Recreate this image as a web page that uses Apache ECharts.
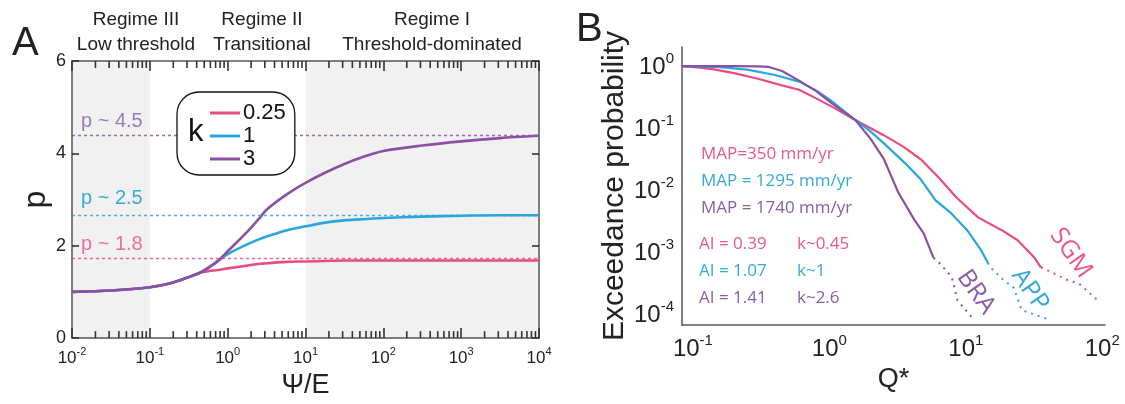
<!DOCTYPE html>
<html>
<head>
<meta charset="utf-8">
<script src="https://cdn.jsdelivr.net/npm/echarts@6/dist/echarts.min.js"></script>
<style>
html, body { margin: 0; padding: 0; background: #fff; }
#chart { width: 1125px; height: 404px; }
</style>
</head>
<body>
<div id="chart"></div>
<script>
// Panel A: p versus Psi/E for three values of k
const psiE = [0.01, 0.0316, 0.1, 0.178, 0.316, 0.447, 0.562, 0.708, 0.794, 1, 1.78, 2.63, 3.16, 5.62, 10, 17.8, 31.6, 50.1, 100, 316, 1000, 3162, 10000];
const pK025 = [1.0, 1.03, 1.1, 1.18, 1.32, 1.42, 1.45, 1.47, 1.48, 1.51, 1.57, 1.61, 1.62, 1.65, 1.66, 1.67, 1.68, 1.68, 1.68, 1.68, 1.68, 1.68, 1.68];
const pK1 = [1.0, 1.03, 1.1, 1.18, 1.32, 1.42, 1.52, 1.64, 1.70, 1.82, 2.03, 2.15, 2.2, 2.33, 2.42, 2.5, 2.55, 2.57, 2.6, 2.63, 2.65, 2.66, 2.66];
const pK3 = [1.0, 1.03, 1.1, 1.18, 1.32, 1.42, 1.52, 1.64, 1.71, 1.88, 2.3, 2.62, 2.78, 3.1, 3.36, 3.58, 3.77, 3.9, 4.05, 4.17, 4.26, 4.33, 4.38];
const kNames = ['0.25', '1', '3'];
const pLimits = [1.73, 2.65, 4.39];
const pLimitLabels = ['p ~ 1.8', 'p ~ 2.5', 'p ~ 4.5'];
const shadedRanges = [[0.01, 0.1], [10, 10000]];
const regimeTitles = [['Regime III', 'Low threshold'], ['Regime II', 'Transitional'], ['Regime I', 'Threshold-dominated']];

// Panel B: exceedance probability of Q* for three sites
const sgmSolid = [[0.083, 0.95], [0.1, 0.93], [0.14, 0.86], [0.2, 0.74], [0.3, 0.6], [0.45, 0.47], [0.6, 0.4], [0.8, 0.29], [1.1, 0.2], [1.55, 0.13], [2.5, 0.074], [3.5, 0.048], [4.7, 0.03], [6.3, 0.0155], [8.5, 0.0074], [12.3, 0.0035], [18.2, 0.0022], [24, 0.0015], [31.6, 0.0008], [35.5, 0.00055]];
const sgmTail = [[35.5, 0.00055], [39.8, 0.00049], [56, 0.00034], [67.6, 0.0003], [93, 0.00016]];
const appSolid = [[0.083, 0.96], [0.15, 0.93], [0.25, 0.84], [0.4, 0.69], [0.6, 0.54], [0.8, 0.39], [1.0, 0.28], [1.25, 0.19], [1.55, 0.13], [2.0, 0.085], [2.5, 0.055], [3.6, 0.026], [4.7, 0.0141], [6.0, 0.0066], [7.8, 0.0041], [10.2, 0.0022], [12.9, 0.00105], [14.5, 0.00065]];
const appTail = [[14.5, 0.00065], [15.1, 0.00055], [19, 0.00034], [22.4, 0.00026], [25.7, 0.000112], [41.7, 0.000078]];
const braSolid = [[0.083, 0.96], [0.2, 0.96], [0.3, 0.95], [0.36, 0.93], [0.45, 0.8], [0.6, 0.56], [0.8, 0.38], [1.0, 0.26], [1.25, 0.18], [1.55, 0.13], [2.0, 0.065], [2.5, 0.031], [3.2, 0.0088], [4.2, 0.0032], [4.9, 0.00195], [5.4, 0.00115], [5.8, 0.00078]];
const braTail = [[5.8, 0.00078], [6.2, 0.0007], [7.4, 0.00045], [7.9, 0.00038], [8.7, 0.00016], [11.5, 0.000078]];
const siteNames = ['SGM', 'APP', 'BRA'];
const mapLabels = ['MAP=350 mm/yr', 'MAP = 1295 mm/yr', 'MAP = 1740 mm/yr'];
const aiLabels = ['AI = 0.39', 'AI = 1.07', 'AI = 1.41'];
const kLabels = ['k~0.45', 'k~1', 'k~2.6'];

const PINK = '#e94b82';
const BLUE = '#2aa6de';
const PURPLE = '#8a50a2';
const AXIS = '#555';
const TICK = '#333';
const FONT = '"Liberation Sans", Arial, sans-serif';
const ANNO_FONT = '"Open Sans", "Liberation Sans", sans-serif';

// minor ticks of the log axis in panel A (2..9 in every decade)
const minorTicksA = [];
for (let d = -2; d < 4; d++) {
    for (let m = 2; m <= 9; m++) minorTicksA.push(m * Math.pow(10, d));
}

function powLabel(value) {
    const e = Math.round(Math.log10(value));
    return '{b|10}{s|' + e + '}';
}

function powRich(size, supSize) {
    return {
        b: { fontSize: size, fontFamily: FONT, color: '#222', lineHeight: size + 4, verticalAlign: 'bottom' },
        s: { fontSize: supSize, fontFamily: FONT, color: '#222', lineHeight: supSize, verticalAlign: 'top' }
    };
}

const chart = echarts.init(document.getElementById('chart'));

const lineA = (name, values, color, limit) => ({
    name: name,
    type: 'line',
    xAxisIndex: 0,
    yAxisIndex: 0,
    data: psiE.map((x, i) => [x, values[i]]),
    smooth: 0.3,
    symbol: 'none',
    z: 3,
    itemStyle: { color: color },
    lineStyle: { color: color, width: 2.6 },
    markLine: {
        silent: true,
        symbol: 'none',
        label: { show: false },
        lineStyle: { type: [3, 3], width: 1.3, color: color, opacity: 0.85 },
        data: [{ yAxis: limit }]
    }
});

const lineB = (name, data, color, dotted) => ({
    name: name,
    type: 'line',
    xAxisIndex: 2,
    yAxisIndex: 2,
    data: data,
    symbol: 'none',
    z: 3,
    itemStyle: { color: color },
    lineStyle: { color: color, width: dotted ? 2 : 2.2, type: dotted ? [2, 5] : 'solid' }
});

// short minor tick marks at the top and bottom edges of panel A
const minorTickSeries = (atTop) => ({
    type: 'custom', xAxisIndex: 0, yAxisIndex: 0, z: 6,
    data: minorTicksA.map(v => [v, 3]),
    renderItem: function (params, api) {
        const cs = params.coordSys;
        const x = api.coord([api.value(0), 0])[0];
        const y = atTop ? cs.y : cs.y + cs.height - 7;
        return { type: 'rect', shape: { x: x - 0.8, y: y, width: 1.6, height: 7 }, style: { fill: TICK } };
    }
});

const graphicTexts = [
    { type: 'text', left: 12, top: 24, style: { text: 'A', font: '40px ' + FONT, fill: '#222' } },
    { type: 'text', left: 576, top: 10, style: { text: 'B', font: '40px ' + FONT, fill: '#222' } },
    { type: 'text', left: 188, top: 117, z: 10, style: { text: 'k', font: '31px ' + FONT, fill: '#111' } }
];
const regimeCenters = [136, 262, 432];
regimeTitles.forEach((t, i) => {
    graphicTexts.push({
        type: 'text', x: regimeCenters[i], y: 7,
        style: { text: t[0] + '\n' + t[1], font: '19px ' + FONT, fill: '#222', align: 'center', lineHeight: 25 }
    });
});
const pLimitColors = ['#e8709a', '#3aa8dc', '#9b7db6'];
const pLimitTops = [234, 188, 111];
pLimitLabels.forEach((t, i) => {
    graphicTexts.push({ type: 'text', left: 81, top: pLimitTops[i], z: 6, style: { text: t, font: '20px ' + FONT, fill: pLimitColors[i] } });
});
const siteColors = ['#e9568b', '#34a9dd', '#8a5ea6'];
mapLabels.forEach((t, i) => {
    graphicTexts.push({ type: 'text', left: 701, top: 146 + i * 27, style: { text: t, font: '17px ' + ANNO_FONT, fill: siteColors[i] } });
    graphicTexts.push({ type: 'text', left: 699, top: 236 + i * 27, style: { text: aiLabels[i], font: '17px ' + ANNO_FONT, fill: siteColors[i] } });
    graphicTexts.push({ type: 'text', left: 797, top: 236 + i * 27, style: { text: kLabels[i], font: '17px ' + ANNO_FONT, fill: siteColors[i] } });
});
const sitePos = [[1071, 253], [1030, 290], [976, 292]];
siteNames.forEach((t, i) => {
    graphicTexts.push({
        type: 'text', x: sitePos[i][0], y: sitePos[i][1], rotation: -55 * Math.PI / 180,
        style: { text: t, font: '25px ' + ANNO_FONT, fill: siteColors[i], align: 'center', verticalAlign: 'middle' }
    });
});

const majorTick = (len) => ({ show: true, inside: true, length: len, lineStyle: { color: TICK, width: 1.6 } });

const option = {
    animation: false,
    backgroundColor: '#fff',
    textStyle: { fontFamily: FONT },
    grid: [
        { left: 72, right: 586, top: 61, bottom: 65 },
        { left: 682, right: 20, top: 47, bottom: 79 }
    ],
    legend: {
        data: kNames,
        orient: 'vertical',
        left: 177,
        top: 92,
        icon: 'rect',
        itemWidth: 30,
        itemHeight: 3,
        itemGap: 1,
        padding: [10, 9, 5, 33],
        backgroundColor: '#fff',
        borderColor: '#111',
        borderWidth: 1.3,
        borderRadius: 22,
        textStyle: { fontSize: 22, lineHeight: 22, fontFamily: FONT, color: '#111', padding: [0, 0, 0, -2] },
        z: 8
    },
    xAxis: [
        {
            type: 'log', logBase: 10, gridIndex: 0, min: 0.01, max: 10000, splitNumber: 6,
            name: 'Ψ/E', nameLocation: 'middle', nameGap: 30,
            nameTextStyle: { fontSize: 27, fontFamily: FONT, color: '#222' },
            axisLine: { show: true, onZero: false, lineStyle: { color: AXIS, width: 1.5 } },
            axisTick: majorTick(10),
            axisLabel: { formatter: powLabel, rich: powRich(17, 11), margin: 8 },
            splitLine: { show: false }
        },
        {
            type: 'log', logBase: 10, gridIndex: 0, min: 0.01, max: 10000, splitNumber: 6, position: 'top',
            axisLine: { show: true, onZero: false, lineStyle: { color: AXIS, width: 1.5 } },
            axisTick: majorTick(10),
            axisLabel: { show: false },
            splitLine: { show: false }
        },
        {
            type: 'log', logBase: 10, gridIndex: 1, min: 0.0832, max: 104.7, splitNumber: 3,
            name: 'Q*', nameLocation: 'middle', nameGap: 40,
            nameTextStyle: { fontSize: 27, fontFamily: FONT, color: '#222' },
            axisLine: { show: true, onZero: false, lineStyle: { color: AXIS, width: 1.5 } },
            axisTick: { show: false },
            axisLabel: { formatter: powLabel, rich: powRich(24, 15), margin: 8, showMinLabel: false, showMaxLabel: false },
            splitLine: { show: false }
        }
    ],
    yAxis: [
        {
            type: 'value', gridIndex: 0, min: 0, max: 6, interval: 2,
            name: 'p', nameLocation: 'middle', nameGap: 3, nameRotate: 90,
            nameTextStyle: { fontSize: 32, fontFamily: FONT, color: '#222' },
            axisLine: { show: true, onZero: false, lineStyle: { color: AXIS, width: 1.5 } },
            axisTick: majorTick(7),
            axisLabel: { fontSize: 18, fontFamily: FONT, color: '#222', margin: 6 },
            splitLine: { show: false }
        },
        {
            type: 'value', gridIndex: 0, min: 0, max: 6, interval: 2, position: 'right',
            axisLine: { show: true, onZero: false, lineStyle: { color: AXIS, width: 1.5 } },
            axisTick: majorTick(7),
            axisLabel: { show: false },
            splitLine: { show: false }
        },
        {
            type: 'log', logBase: 10, gridIndex: 1, min: 0.0000646, max: 1.95, splitNumber: 4,
            name: 'Exceedance probability', nameLocation: 'middle', nameGap: 48, nameRotate: 90,
            nameTextStyle: { fontSize: 30, fontFamily: FONT, color: '#222' },
            axisLine: { show: true, onZero: false, lineStyle: { color: AXIS, width: 1.5 } },
            axisTick: { show: false },
            axisLabel: { formatter: powLabel, rich: powRich(24, 15), margin: 8, showMinLabel: false, showMaxLabel: false },
            splitLine: { show: false }
        }
    ],
    graphic: graphicTexts,
    series: [
        {
            // grey regime bands
            type: 'custom', xAxisIndex: 0, yAxisIndex: 0, silent: true, z: 0,
            data: shadedRanges,
            renderItem: function (params, api) {
                const cs = params.coordSys;
                const x0 = api.coord([api.value(0), 0])[0];
                const x1 = api.coord([api.value(1), 0])[0];
                return { type: 'rect', shape: { x: x0, y: cs.y, width: x1 - x0, height: cs.height }, style: { fill: '#f1f1f1' } };
            }
        },
        minorTickSeries(false),
        minorTickSeries(true),
        lineA(kNames[0], pK025, PINK, pLimits[0]),
        lineA(kNames[1], pK1, BLUE, pLimits[1]),
        lineA(kNames[2], pK3, PURPLE, pLimits[2]),
        lineB(siteNames[0], sgmSolid, PINK, false),
        lineB(siteNames[0] + ' tail', sgmTail, PINK, true),
        lineB(siteNames[1], appSolid, BLUE, false),
        lineB(siteNames[1] + ' tail', appTail, BLUE, true),
        lineB(siteNames[2], braSolid, PURPLE, false),
        lineB(siteNames[2] + ' tail', braTail, PURPLE, true)
    ]
};

chart.setOption(option);
</script>
</body>
</html>
